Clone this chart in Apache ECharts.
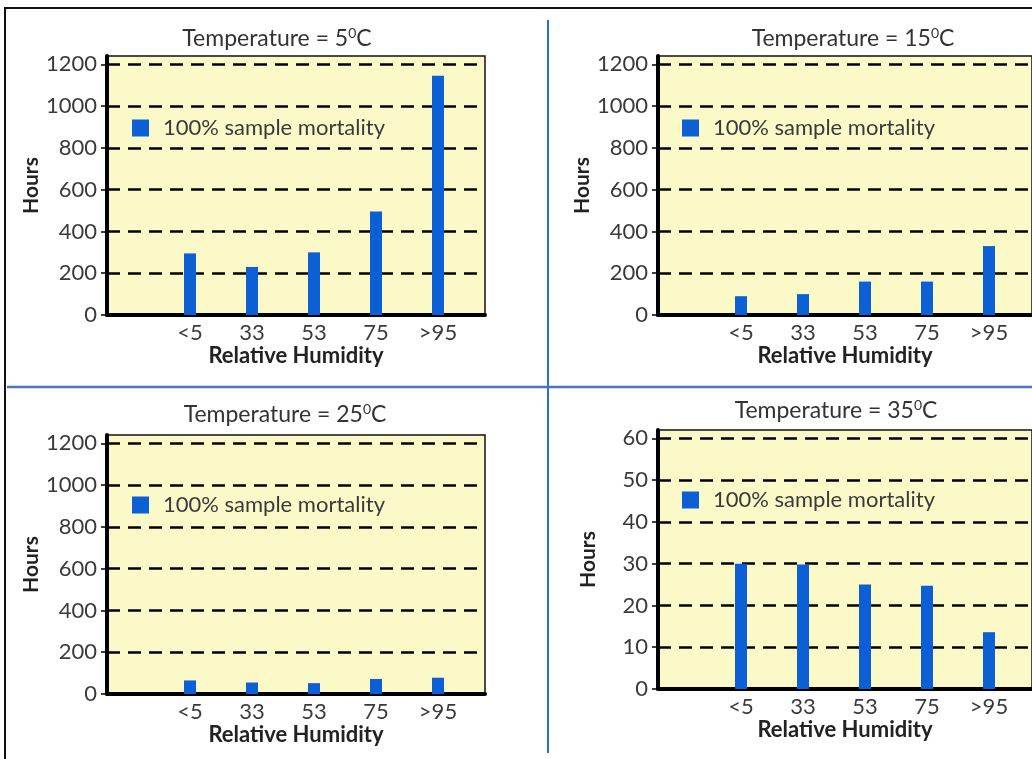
<!DOCTYPE html>
<html>
<head>
<meta charset="utf-8">
<script src="https://cdn.jsdelivr.net/npm/echarts@6/dist/echarts.min.js"></script>
<style>
html,body{margin:0;padding:0;background:#fff;}
#chart{width:1032px;height:759px;}
</style>
</head>
<body>
<div id="chart"></div>
<script>
// ---- data ----
const categories = ['<5', '33', '53', '75', '>95'];
const temperatures = [5, 15, 25, 35];
const hours5C  = [295, 230, 300, 495, 1145];
const hours15C = [90, 100, 160, 160, 330];
const hours25C = [65, 55, 52, 72, 78];
const hours35C = [30, 29.8, 25, 24.7, 13.6];
const seriesName = '100% sample mortality';
const yAxisMax = [1240, 1240, 1240, 62];
const yAxisStep = [200, 200, 200, 10];
const xAxisTitle = 'Relative Humidity';
const yAxisTitle = 'Hours';

const panelValues = [hours5C, hours15C, hours25C, hours35C];

// ---- layout ----
const frames = [
  {x: 107, y: 56, hoursGap: 61, legendX: 132, legendY: 117, titleX: 277, titleY: 39},
  {x: 658, y: 56, hoursGap: 54, legendX: 682, legendY: 117, titleX: 853, titleY: 39},
  {x: 107, y: 435, hoursGap: 61, legendX: 132, legendY: 494, titleX: 285, titleY: 415},
  {x: 658, y: 430, hoursGap: 59, legendX: 682, legendY: 489, titleX: 836, titleY: 411}
];
const FW = 378, FH = 259;
const FONT = 'Lato';
const BAR_COLOR = '#0c5fd4';

const grids = [], xAxes = [], yAxes = [], series = [], legends = [], graphics = [];

frames.forEach((f, i) => {
  grids.push({left: f.x, top: f.y, width: FW, height: FH, show: true,
    backgroundColor: '#fbf9c8', borderColor: '#111', borderWidth: 1.5});
  grids.push({left: f.x + 52, top: f.y, width: 310, height: FH});

  xAxes.push({
    gridIndex: 2 * i, type: 'value', min: 0, max: 1,
    axisLine: {show: true, onZero: false, lineStyle: {color: '#000', width: 4}},
    axisTick: {show: false}, axisLabel: {show: false}, splitLine: {show: false},
    name: xAxisTitle, nameLocation: 'middle', nameGap: 30,
    nameTextStyle: {fontFamily: FONT, fontWeight: 'bold', fontSize: 22, color: '#222'}
  });
  xAxes.push({
    gridIndex: 2 * i + 1, type: 'category', data: categories,
    axisLine: {show: false}, axisTick: {show: false},
    axisLabel: {margin: 7, fontFamily: FONT, fontSize: 22, color: '#3a3a3a'}
  });

  yAxes.push({
    gridIndex: 2 * i, type: 'value', min: 0, max: yAxisMax[i], interval: yAxisStep[i],
    axisLine: {show: true, lineStyle: {color: '#000', width: 4}},
    axisTick: {show: true, length: 6, lineStyle: {color: '#000', width: 1.5}},
    axisLabel: {showMaxLabel: false, margin: 10, fontFamily: FONT, fontSize: 22, color: '#3a3a3a',
      formatter: v => String(v)},
    splitLine: {show: true, showMaxLine: false,
      lineStyle: {color: '#000', width: 2.5, type: [13, 8], dashOffset: 0}},
    name: yAxisTitle, nameLocation: 'middle', nameGap: f.hoursGap,
    nameTextStyle: {fontFamily: FONT, fontWeight: 'bold', fontSize: 21, color: '#222'}
  });
  yAxes.push({gridIndex: 2 * i + 1, type: 'value', min: 0, max: yAxisMax[i], show: false});

  series.push({
    name: seriesName, type: 'bar', xAxisIndex: 2 * i + 1, yAxisIndex: 2 * i + 1,
    data: panelValues[i], barWidth: 12, itemStyle: {color: BAR_COLOR}, z: 5
  });

  legends.push({
    left: f.legendX, top: f.legendY, padding: 0, data: [seriesName], icon: 'rect',
    itemWidth: 17, itemHeight: 17, selectedMode: false,
    textStyle: {fontFamily: FONT, fontSize: 22, color: '#3a3a3a', padding: [0, 0, 0, 9]}
  });

  graphics.push({
    type: 'text', x: f.titleX, y: f.titleY, z: 10,
    style: {
      text: '{m|Temperature = ' + temperatures[i] + '}{s|0}{m|C}',
      align: 'center', verticalAlign: 'middle',
      rich: {
        m: {fontFamily: FONT, fontSize: 23, fill: '#333', lineHeight: 25},
        s: {fontFamily: FONT, fontSize: 14, fill: '#333', verticalAlign: 'top', lineHeight: 25}
      }
    }
  });
});

graphics.push({type: 'rect', z: 20, shape: {x: 5, y: 8, width: 1100, height: 800},
  style: {fill: 'none', stroke: '#111', lineWidth: 2}});
graphics.push({type: 'line', z: 20, shape: {x1: 548, y1: 20, x2: 548, y2: 753},
  style: {stroke: '#2a6fd2', lineWidth: 2}});
graphics.push({type: 'line', z: 20, shape: {x1: 7, y1: 387, x2: 1032, y2: 387},
  style: {stroke: '#4a76bc', lineWidth: 2.5}});

const chart = echarts.init(document.getElementById('chart'), null, {renderer: 'canvas'});
chart.setOption({
  animation: false,
  backgroundColor: '#fff',
  grid: grids, xAxis: xAxes, yAxis: yAxes, series: series, legend: legends,
  graphic: graphics
});
</script>
</body>
</html>
